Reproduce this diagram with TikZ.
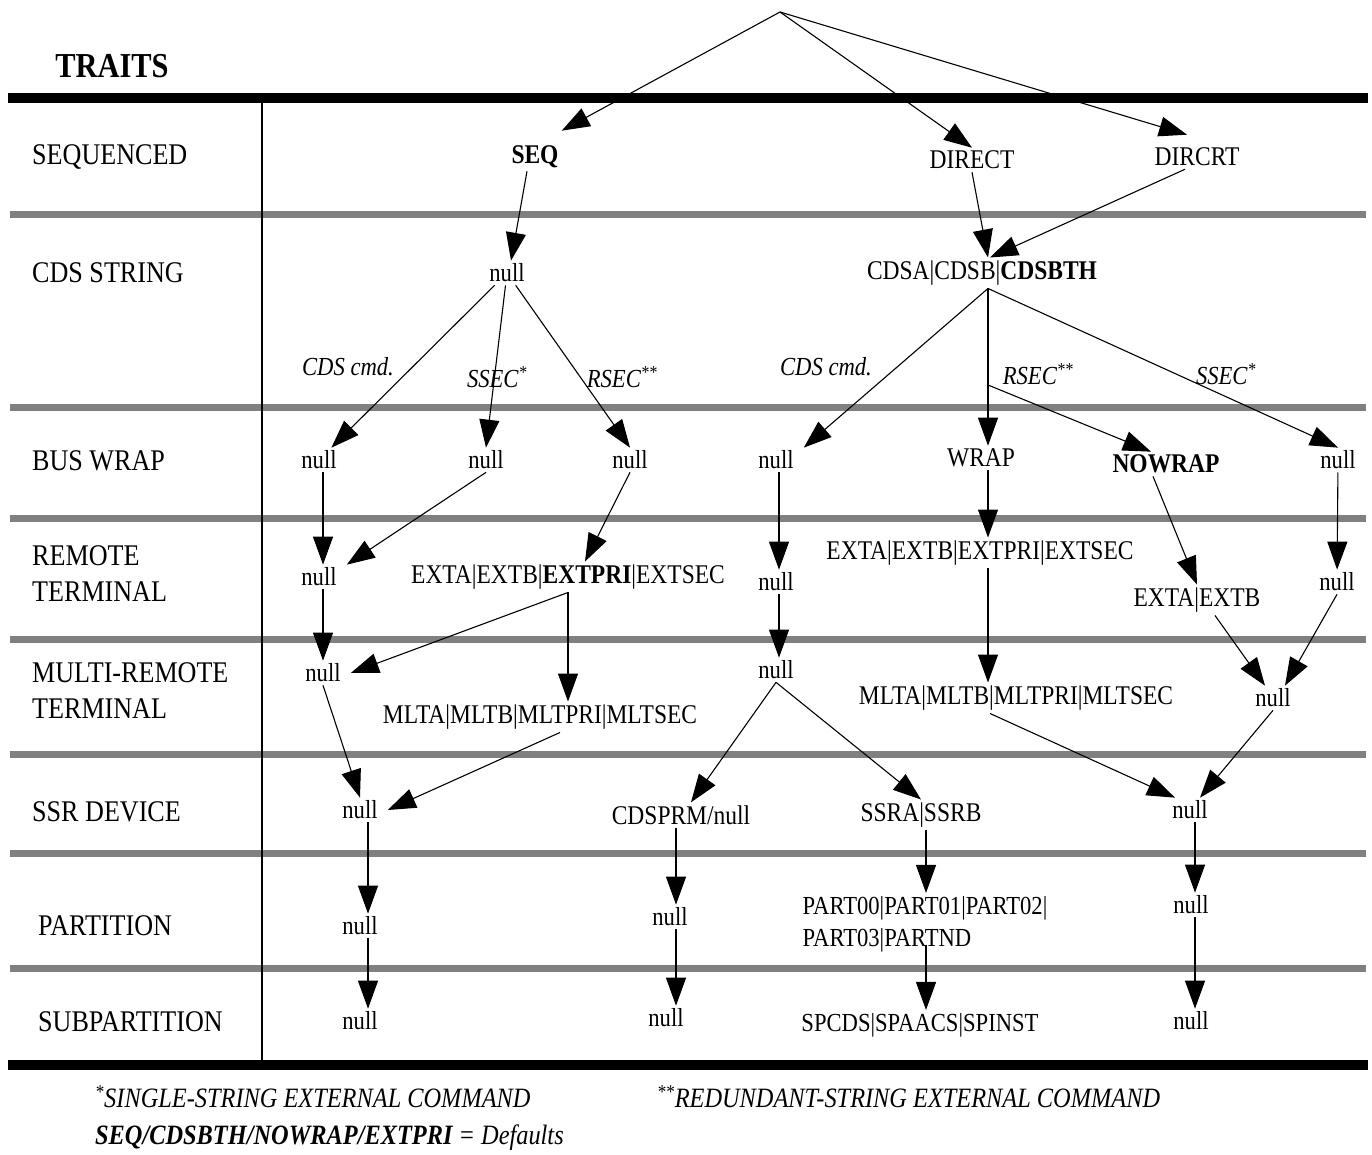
\documentclass[tikz,border=0pt]{standalone}
\usepackage{fontspec}
\setmainfont{Liberation Serif}[FakeStretch=0.87]
\usetikzlibrary{arrows.meta,calc}
\begin{document}
\begin{tikzpicture}[x=1pt,y=-1pt,
 lbl/.style={anchor=west, font=\fontsize{30}{36}\selectfont, align=left, inner sep=0pt},
 nd/.style={font=\fontsize{27}{32}\selectfont, inner xsep=3pt, inner ysep=3pt, align=left},
 nul/.style={font=\fontsize{26}{28}\selectfont, inner xsep=10pt, inner ysep=3pt},
 itl/.style={font=\fontsize{26}{30}\selectfont\itshape, inner sep=0pt},
 foot/.style={anchor=west, font=\fontsize{28}{32}\selectfont\itshape, inner sep=0pt},
 arr/.style={line width=1.1pt, -{Triangle[length=28pt,width=20pt]}},
 band/.style={line width=7pt, draw=black!50},
 bar/.style={line width=10pt, draw=black}]
\useasboundingbox (0,0) rectangle (1372,1155);
\fill[white] (0,0) rectangle (1372,1155);

% bands and rules
\draw[bar] (8,98) -- (1368,98);
\draw[bar] (8,1065) -- (1368,1065);
\foreach \yy in {215,407,518,639,754,853,968}
  \draw[band] (10,\yy) -- (1366,\yy);
\draw[line width=1.5pt] (262,103) -- (262,1060);

% left column
\node[font=\fontsize{35}{40}\selectfont\bfseries, inner sep=0pt] (traits) at (112,66) {TRAITS};
\node[lbl] (tSeq) at (32,157) {SEQUENCED};
\node[lbl] (tCds) at (32,273) {CDS STRING};
\node[lbl] (tBus) at (32,461) {BUS WRAP};
\node[lbl] (tRt) at (32,574) {REMOTE\\TERMINAL};
\node[lbl] (tMrt) at (32,691) {MULTI-REMOTE\\TERMINAL};
\node[lbl] (tSsr) at (32,812) {SSR DEVICE};
\node[lbl] (tPart) at (38,926) {PARTITION};
\node[lbl] (tSub) at (38,1022) {SUBPARTITION};

% nodes
\coordinate (root) at (780,12);
\node[nd] (seq) at (535,157) {\textbf{SEQ}};
\node[nd] (direct) at (972,160) {DIRECT};
\node[nd] (dircrt) at (1197,157) {DIRCRT};

\node[nul] (n1) at (507,273) {null};
\node[nd] (cds) at (982,273) {CDSA|CDSB|\textbf{CDSBTH}};
\coordinate (cdsb) at ([xshift=6pt]cds.south);
\coordinate (rb) at (988,385);

\node[itl] (l1) at (348,367) {CDS cmd.};
\node[itl] (l2) at (497,377) {SSEC\textsuperscript{*}};
\node[itl] (l3) at (622,377) {RSEC\textsuperscript{**}};
\node[itl] (l4) at (826,367) {CDS cmd.};
\node[itl] (l5) at (1038,374) {RSEC\textsuperscript{**}};
\node[itl] (l6) at (1226,374) {SSEC\textsuperscript{*}};

\node[nul] (nA) at (319,460) {null};
\node[nul] (nB) at (486,460) {null};
\node[nul] (nC) at (630,460) {null};
\node[nul] (nD) at (776,460) {null};
\node[nd] (wrap) at (981,458) {WRAP};
\node[nd] (nowrap) at (1166,464) {\textbf{NOWRAP}};
\node[nul] (nE) at (1338,460) {null};

\node[nul] (nF) at (319,577) {null};
\node[nd] (extL) at (568,577) {EXTA|EXTB|\textbf{EXTPRI}|EXTSEC};
\node[nul] (nG) at (776,582) {null};
\node[nd] (extR) at (980,553) {EXTA|EXTB|EXTPRI|EXTSEC};
\node[nd] (extab) at (1197,600) {EXTA|EXTB};
\node[nul] (nH) at (1337,582) {null};

\node[nul] (nI) at (323,673) {null};
\node[nd] (mltL) at (540,717) {MLTA|MLTB|MLTPRI|MLTSEC};
\node[nul] (nJ) at (776,670) {null};
\node[nd] (mltR) at (1016,698) {MLTA|MLTB|MLTPRI|MLTSEC};
\node[nul] (nK) at (1273,698) {null};

\node[nul] (nL) at (360,810) {null};
\node[nd] (cdsprm) at (681,815) {CDSPRM/null};
\node[nd] (ssra) at (921,815) {SSRA|SSRB};
\node[nul] (nM) at (1190,810) {null};

\node[nul] (nN) at (360,926) {null};
\node[nul] (nO) at (670,917) {null};
\node[nd, font=\fontsize{26}{32}\selectfont] (part) at (925,924) {PART00|PART01|PART02|\\PART03|PARTND};
\node[nul] (nP) at (1191,905) {null};

\node[nul] (nQ) at (360,1021) {null};
\node[nul] (nR) at (666,1018) {null};
\node[nd, font=\fontsize{26}{32}\selectfont] (spcds) at (920,1025) {SPCDS|SPAACS|SPINST};
\node[nul] (nS) at (1191,1021) {null};

% connectors
\draw[arr] (root) -- ([yshift=12pt]seq.north east);
\draw[arr] (root) -- (direct.north);
\draw[arr] (root) -- ([xshift=-10pt,yshift=10pt]dircrt.north);

\draw[arr] ([xshift=-8pt]seq.south) -- ([xshift=4pt]n1.north);
\draw[arr] (direct.south) -- ([xshift=6pt]cds.north);
\draw[arr] ([xshift=-12pt]dircrt.south) -- ([xshift=8pt]cds.north);

\draw[arr] (n1) -- (nA);
\draw[arr] (n1) -- (nB.north);
\draw[arr] (n1) -- (nC.north);
\draw[arr] (cdsb) -- (nD.north east);
\draw[arr] (cdsb) -- (cdsb |- wrap.north);
\draw[arr] (rb) -- ([xshift=-15pt]nowrap.north);
\draw[arr] (cdsb) -- (nE.north);

\draw[arr] ([xshift=4pt]nA.south) -- ([xshift=4pt]nF.north);
\draw[arr] (nB.south) -- (nF.north east);
\draw[arr] (nC.south) -- ([xshift=17pt]extL.north);
\draw[arr] ([xshift=3pt]nD.south) -- ([xshift=3pt]nG.north);
\draw[arr] (rb |- wrap.south) -- (rb |- extR.north);
\draw[arr] ([xshift=-13pt]nowrap.south) -- (extab.north);
\draw[arr] (nE) -- (nH);

\draw[arr] ([xshift=4pt]nF.south) -- (nI.north);
\draw[arr] (extL.south) -- (nI.east);
\draw[arr] (extL.south) -- (extL.south |- mltL.north);
\draw[arr] ([xshift=3pt]nG.south) -- ([xshift=3pt]nJ.north);
\draw[arr] (rb |- extR.south) -- (rb |- mltR.north);
\draw[arr] ([xshift=18pt]extab.south) -- ([xshift=-8pt]nK.north);
\draw[arr] (nH.south) -- ([xshift=12pt]nK.north);

\draw[arr] (nI.south) -- (nL.north);
\draw[arr] ([xshift=20pt]mltL.south) -- (nL.east);
\draw[arr] (nJ.south) -- ([xshift=10pt]cdsprm.north);
\draw[arr] (nJ.south) -- (ssra.north);
\draw[arr] ([xshift=-26pt]mltR.south) -- ([xshift=-15pt]nM.north);
\draw[arr] (nK.south) -- ([xshift=10pt]nM.north);

\draw[arr] ([xshift=8pt]nL.south) -- ([xshift=8pt]nN.north);
\draw[arr] ([xshift=-5pt]cdsprm.south) -- ([xshift=6pt]nO.north);
\draw[arr] ([xshift=5pt]ssra.south) -- ([xshift=1pt]part.north);
\draw[arr] ([xshift=5pt]nM.south) -- ([xshift=4pt]nP.north);

\draw[arr] ([xshift=8pt]nN.south) -- ([xshift=8pt]nQ.north);
\draw[arr] ([xshift=6pt]nO.south) -- ([xshift=10pt]nR.north);
\draw[arr] ([xshift=1pt,yshift=10pt]part.south) -- ([xshift=6pt]spcds.north);
\draw[arr] ([xshift=4pt]nP.south) -- ([xshift=4pt]nS.north);

% footer
\node[foot] (f1) at (95,1097) {\textsuperscript{*}SINGLE-STRING EXTERNAL COMMAND};
\node[foot] (f2) at (657,1097) {\textsuperscript{**}REDUNDANT-STRING EXTERNAL COMMAND};
\node[foot] (f3) at (95,1138) {\textbf{SEQ/CDSBTH/NOWRAP/EXTPRI} = Defaults};
\end{tikzpicture}
\end{document}
